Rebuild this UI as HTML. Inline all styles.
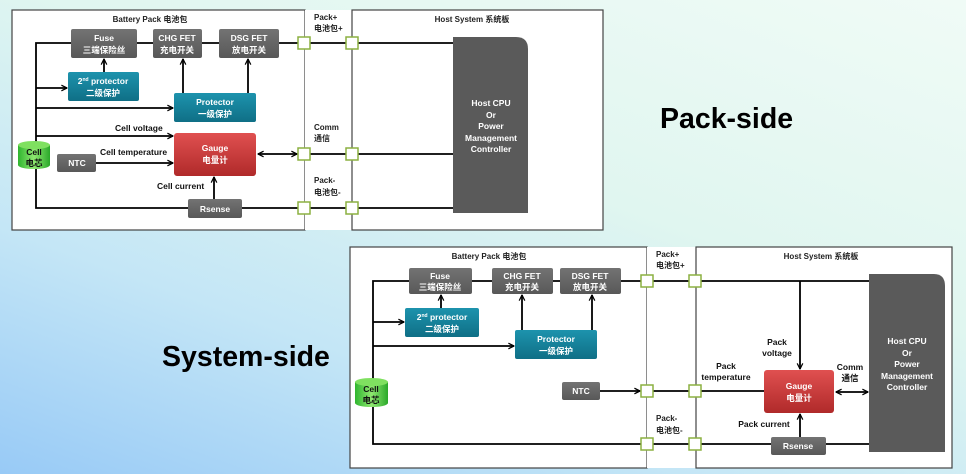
<!DOCTYPE html>
<html><head><meta charset="utf-8"><style>
html,body{margin:0;padding:0;width:966px;height:474px;overflow:hidden}
body{background:linear-gradient(20deg,#98caf6 0%,#c4e6f6 30%,#e0f6f0 60%,#f0fbf6 100%)}
svg{display:block}
text{font-family:"Liberation Sans","Noto Sans CJK SC",sans-serif;font-weight:bold}
</style></head><body>
<svg width="966" height="474" viewBox="0 0 966 474" xmlns="http://www.w3.org/2000/svg">
<defs>
<marker id="a" viewBox="0 0 10 10" refX="9" refY="5" markerWidth="7" markerHeight="7" orient="auto-start-reverse" markerUnits="userSpaceOnUse">
<path d="M1,1 L9,5 L1,9" fill="none" stroke="#000" stroke-width="1.8"/></marker>
<linearGradient id="g" x1="0" y1="0" x2="0" y2="1"><stop offset="0" stop-color="#737373"/><stop offset="1" stop-color="#585858"/></linearGradient>
<linearGradient id="t" x1="0" y1="0" x2="0" y2="1"><stop offset="0" stop-color="#1d93ad"/><stop offset="1" stop-color="#0f6f86"/></linearGradient>
<linearGradient id="r" x1="0" y1="0" x2="0" y2="1"><stop offset="0" stop-color="#e05050"/><stop offset="1" stop-color="#b02a2a"/></linearGradient>
<linearGradient id="c" x1="0" y1="0" x2="1" y2="0"><stop offset="0" stop-color="#2fb52f"/><stop offset=".5" stop-color="#8fe870"/><stop offset="1" stop-color="#2aa82a"/></linearGradient>
</defs>

<!-- ================= TOP ================= -->
<rect x="12" y="10" width="293" height="220" fill="#fff" stroke="#444" stroke-width="1.2"/>
<rect x="305" y="10" width="47" height="220" fill="#fff"/>
<rect x="352" y="10" width="251" height="220" fill="#fff" stroke="#444" stroke-width="1.2"/>
<g font-size="8" fill="#222" text-anchor="middle">
<text x="150" y="22">Battery Pack 电池包</text>
<text x="472" y="22">Host System 系统板</text>
</g>
<g font-size="8" fill="#222">
<text x="314" y="20">Pack+</text><text x="314" y="31">电池包+</text>
<text x="314" y="130">Comm</text><text x="314" y="141">通信</text>
<text x="314" y="183">Pack-</text><text x="314" y="195">电池包-</text>
</g>
<g stroke="#000" stroke-width="1.8" fill="none">
<polyline points="453,43 36,43 36,208 453,208"/>
<line x1="36" y1="88" x2="67" y2="88" marker-end="url(#a)"/>
<line x1="36" y1="108" x2="173" y2="108" marker-end="url(#a)"/>
<line x1="36" y1="136" x2="173" y2="136" marker-end="url(#a)"/>
<line x1="96" y1="163" x2="173" y2="163" marker-end="url(#a)"/>
<line x1="104" y1="72" x2="104" y2="59" marker-end="url(#a)"/>
<line x1="183" y1="93" x2="183" y2="59" marker-end="url(#a)"/>
<line x1="248" y1="93" x2="248" y2="59" marker-end="url(#a)"/>
<line x1="214" y1="199" x2="214" y2="177" marker-end="url(#a)"/>
<line x1="258" y1="154" x2="297" y2="154" marker-start="url(#a)" marker-end="url(#a)"/>
<line x1="309" y1="154" x2="453" y2="154"/>
</g>
<g fill="url(#g)">
<rect x="71" y="29" width="66" height="29" rx="2"/>
<rect x="153" y="29" width="49" height="29" rx="2"/>
<rect x="219" y="29" width="60" height="29" rx="2"/>
<rect x="57" y="154" width="39" height="18" rx="2"/>
<rect x="188" y="199" width="54" height="19" rx="2"/>
</g>
<rect x="68" y="72" width="71" height="29" rx="2" fill="url(#t)"/>
<rect x="174" y="93" width="82" height="29" rx="2" fill="url(#t)"/>
<rect x="174" y="133" width="82" height="43" rx="3" fill="url(#r)"/>
<path d="M453,37 H516 Q528,37 528,49 V213 H453 Z" fill="#5a5a5a"/>
<path d="M18,145 V165 A16,4 0 0 0 50,165 V145 Z" fill="url(#c)"/>
<ellipse cx="34" cy="145" rx="16" ry="4" fill="#7fe060"/>
<g fill="#fff" stroke="#8cb040" stroke-width="1.5">
<rect x="298" y="37" width="12" height="12"/><rect x="346" y="37" width="12" height="12"/>
<rect x="298" y="148" width="12" height="12"/><rect x="346" y="148" width="12" height="12"/>
<rect x="298" y="202" width="12" height="12"/><rect x="346" y="202" width="12" height="12"/>
</g>
<g font-size="8.5" fill="#fff" text-anchor="middle">
<text x="104" y="41">Fuse</text><text x="104" y="53">三端保险丝</text>
<text x="177" y="41">CHG FET</text><text x="177" y="53">充电开关</text>
<text x="249" y="41">DSG FET</text><text x="249" y="53">放电开关</text>
<text x="103" y="84">2<tspan font-size="5" dy="-3">nd</tspan><tspan dy="3"> protector</tspan></text><text x="103" y="96">二级保护</text>
<text x="215" y="105">Protector</text><text x="215" y="117">一级保护</text>
<text x="215" y="151">Gauge</text><text x="215" y="163">电量计</text>
<text x="77" y="166">NTC</text>
<text x="215" y="212">Rsense</text>
<text x="491" y="106">Host CPU</text><text x="491" y="118">Or</text><text x="491" y="129">Power</text><text x="491" y="141">Management</text><text x="491" y="152">Controller</text>
</g>
<g font-size="8.5" fill="#111" text-anchor="middle">
<text x="34" y="155">Cell</text><text x="34" y="166">电芯</text>
</g>
<g font-size="8.5" fill="#111">
<text x="115" y="131">Cell voltage</text>
<text x="100" y="155">Cell temperature</text>
<text x="157" y="189">Cell current</text>
</g>
<text x="660" y="128" font-size="28.5" fill="#000">Pack-side</text>

<!-- ================= BOTTOM ================= -->
<rect x="350" y="247" width="297" height="221" fill="#fff" stroke="#444" stroke-width="1.2"/>
<rect x="647" y="247" width="49" height="221" fill="#fff"/>
<rect x="696" y="247" width="256" height="221" fill="#fff" stroke="#444" stroke-width="1.2"/>
<g font-size="8" fill="#222" text-anchor="middle">
<text x="489" y="259">Battery Pack 电池包</text>
<text x="821" y="259">Host System 系统板</text>
</g>
<g font-size="8" fill="#222">
<text x="656" y="257">Pack+</text><text x="656" y="268">电池包+</text>
<text x="656" y="421">Pack-</text><text x="656" y="433">电池包-</text>
</g>
<g stroke="#000" stroke-width="1.8" fill="none">
<polyline points="869,281 373,281 373,444 869,444"/>
<line x1="373" y1="322" x2="404" y2="322" marker-end="url(#a)"/>
<line x1="373" y1="346" x2="514" y2="346" marker-end="url(#a)"/>
<line x1="441" y1="308" x2="441" y2="295" marker-end="url(#a)"/>
<line x1="522" y1="330" x2="522" y2="295" marker-end="url(#a)"/>
<line x1="592" y1="330" x2="592" y2="295" marker-end="url(#a)"/>
<line x1="600" y1="391" x2="640" y2="391" marker-end="url(#a)"/>
<line x1="653" y1="391" x2="764" y2="391"/>
<line x1="800" y1="281" x2="800" y2="369" marker-end="url(#a)"/>
<line x1="800" y1="437" x2="800" y2="414" marker-end="url(#a)"/>
<line x1="836" y1="392" x2="868" y2="392" marker-start="url(#a)" marker-end="url(#a)"/>
</g>
<g fill="url(#g)">
<rect x="409" y="268" width="63" height="26" rx="2"/>
<rect x="492" y="268" width="61" height="26" rx="2"/>
<rect x="560" y="268" width="61" height="26" rx="2"/>
<rect x="562" y="382" width="38" height="18" rx="2"/>
<rect x="771" y="437" width="55" height="18" rx="2"/>
</g>
<rect x="405" y="308" width="74" height="29" rx="2" fill="url(#t)"/>
<rect x="515" y="330" width="82" height="29" rx="2" fill="url(#t)"/>
<rect x="764" y="370" width="70" height="43" rx="3" fill="url(#r)"/>
<path d="M869,274 H934 Q945,274 945,286 V452 H869 Z" fill="#5a5a5a"/>
<path d="M355,382 V403 A16.5,4 0 0 0 388,403 V382 Z" fill="url(#c)"/>
<ellipse cx="371.5" cy="382" rx="16.5" ry="4" fill="#7fe060"/>
<g fill="#fff" stroke="#8cb040" stroke-width="1.5">
<rect x="641" y="275" width="12" height="12"/><rect x="689" y="275" width="12" height="12"/>
<rect x="641" y="385" width="12" height="12"/><rect x="689" y="385" width="12" height="12"/>
<rect x="641" y="438" width="12" height="12"/><rect x="689" y="438" width="12" height="12"/>
</g>
<g font-size="8.5" fill="#fff" text-anchor="middle">
<text x="440" y="279">Fuse</text><text x="440" y="290">三端保险丝</text>
<text x="522" y="279">CHG FET</text><text x="522" y="290">充电开关</text>
<text x="590" y="279">DSG FET</text><text x="590" y="290">放电开关</text>
<text x="442" y="320">2<tspan font-size="5" dy="-3">nd</tspan><tspan dy="3"> protector</tspan></text><text x="442" y="332">二级保护</text>
<text x="556" y="342">Protector</text><text x="556" y="354">一级保护</text>
<text x="799" y="389">Gauge</text><text x="799" y="401">电量计</text>
<text x="581" y="394">NTC</text>
<text x="798" y="449">Rsense</text>
<text x="907" y="344">Host CPU</text><text x="907" y="356">Or</text><text x="907" y="367">Power</text><text x="907" y="379">Management</text><text x="907" y="390">Controller</text>
</g>
<g font-size="8.5" fill="#111" text-anchor="middle">
<text x="371" y="392">Cell</text><text x="371" y="403">电芯</text>
<text x="777" y="345">Pack</text><text x="777" y="356">voltage</text>
<text x="726" y="369">Pack</text><text x="726" y="380">temperature</text>
<text x="850" y="370">Comm</text><text x="850" y="381">通信</text>
<text x="764" y="427">Pack current</text>
</g>
<text x="162" y="366" font-size="28.5" fill="#000">System-side</text>
</svg>
</body></html>
